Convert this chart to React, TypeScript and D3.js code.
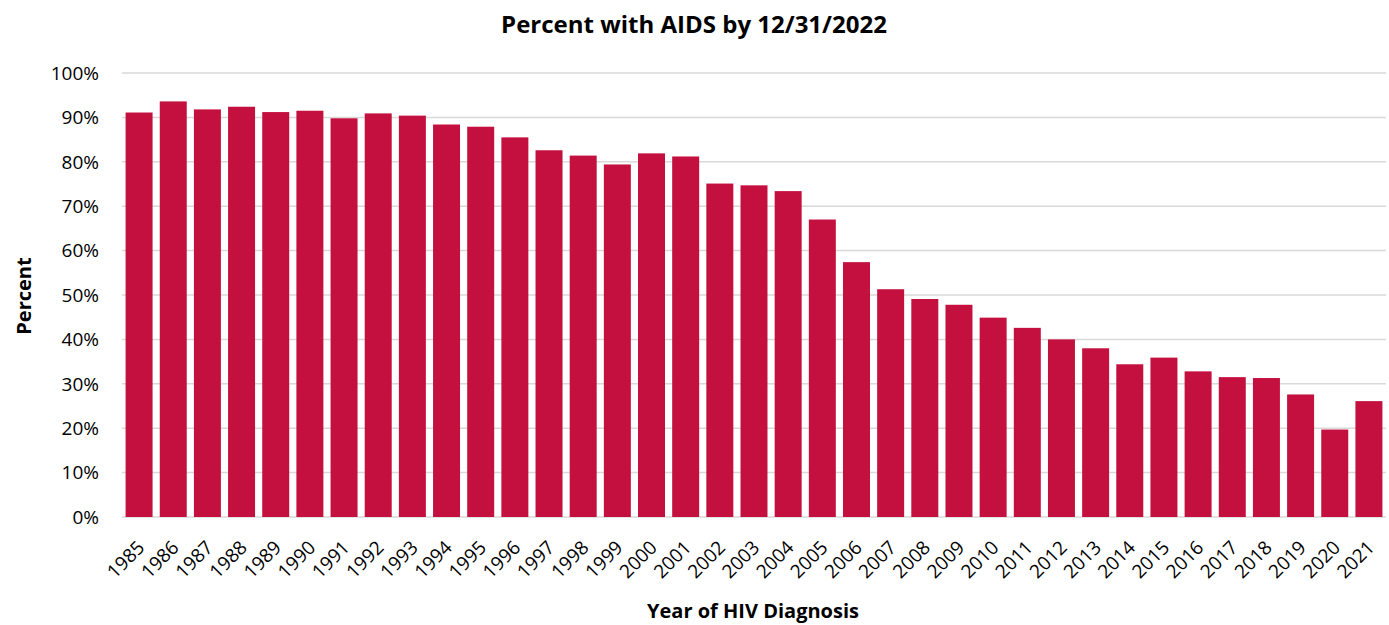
import React from "react";
import * as d3 from "d3";

const years = [
  "1985", "1986", "1987", "1988", "1989", "1990", "1991", "1992", "1993", "1994",
  "1995", "1996", "1997", "1998", "1999", "2000", "2001", "2002", "2003", "2004",
  "2005", "2006", "2007", "2008", "2009", "2010", "2011", "2012", "2013", "2014",
  "2015", "2016", "2017", "2018", "2019", "2020", "2021",
];

const percentAids = [
  91.1, 93.6, 91.8, 92.4, 91.2, 91.5, 89.8, 90.9, 90.4, 88.4,
  87.9, 85.5, 82.6, 81.4, 79.4, 81.9, 81.2, 75.1, 74.7, 73.4,
  67.0, 57.4, 51.3, 49.1, 47.8, 44.9, 42.6, 40.0, 38.0, 34.4,
  35.9, 32.8, 31.5, 31.3, 27.6, 19.7, 26.1,
];

const yTicks = [0, 10, 20, 30, 40, 50, 60, 70, 80, 90, 100];

const width = 1389;
const height = 625;
const margin = { top: 73, right: 3, bottom: 108, left: 122 };
const font = "'Open Sans', 'Noto Sans', sans-serif";

const App: React.FC = () => {
  const x = d3
    .scaleBand<string>()
    .domain(years)
    .range([margin.left, width - margin.right])
    .paddingInner(0.21)
    .paddingOuter(0.105);

  const y = d3
    .scaleLinear()
    .domain([0, 100])
    .range([height - margin.bottom, margin.top]);

  return (
    <div style={{ position: "absolute", left: 0, top: 0 }}>
      <svg width={width} height={height} style={{ display: "block", fontFamily: font }}>
        <rect width={width} height={height} fill="#fff" />

        {/* title */}
        <text x={694} y={33} textAnchor="middle" fontSize={24} fontWeight="bold" fill="#000">
          Percent with AIDS by 12/31/2022
        </text>

        {/* gridlines + y labels */}
        {yTicks.map((t) => (
          <g key={t}>
            <line
              x1={margin.left}
              x2={width - margin.right}
              y1={y(t)}
              y2={y(t)}
              stroke="#d9d9d9"
              strokeWidth={1.5}
            />
            <text x={99} y={y(t)} dy="0.36em" textAnchor="end" fontSize={19} fill="#000">
              {t}%
            </text>
          </g>
        ))}

        {/* bars */}
        {percentAids.map((v, i) => (
          <rect
            key={years[i]}
            x={x(years[i])}
            y={y(v)}
            width={x.bandwidth()}
            height={y(0) - y(v)}
            fill="#c4103f"
          />
        ))}

        {/* x labels */}
        {years.map((yr) => {
          const cx = (x(yr) as number) + x.bandwidth() / 2 + 2;
          const cy = 544;
          return (
            <text
              key={yr}
              transform={`translate(${cx},${cy}) rotate(-45)`}
              textAnchor="end"
              dy="0.35em"
              fontSize={19}
              fill="#000"
            >
              {yr}
            </text>
          );
        })}

        {/* axis titles */}
        <text x={753} y={618} textAnchor="middle" fontSize={20} fontWeight="bold" fill="#000">
          Year of HIV Diagnosis
        </text>
        <text
          transform={`translate(31,${296}) rotate(-90)`}
          textAnchor="middle"
          fontSize={20}
          fontWeight="bold"
          fill="#000"
        >
          Percent
        </text>
      </svg>
    </div>
  );
};

export default App;
